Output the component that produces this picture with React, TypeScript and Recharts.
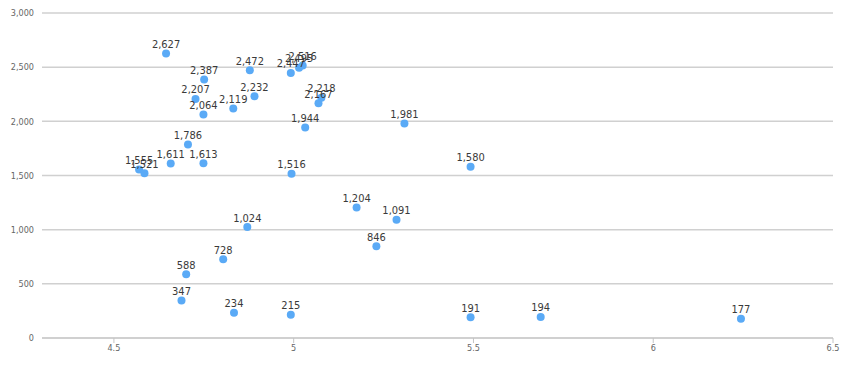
import { CartesianGrid, LabelList, Scatter, ScatterChart, XAxis, YAxis } from "recharts";

const xValues = [
  4.645, 4.751, 4.727, 4.749, 4.832, 4.891, 4.878, 4.706, 4.658, 4.749, 4.57, 4.585, 4.994, 4.871,
  4.804, 4.701, 4.688, 4.834, 4.992, 4.992, 5.015, 5.025, 5.069, 5.077, 5.032, 5.308, 5.492, 5.175,
  5.286, 5.23, 5.492, 5.687, 6.244,
];
const yValues = [
  2627, 2387, 2207, 2064, 2119, 2232, 2472, 1786, 1611, 1613, 1555, 1521, 1516, 1024, 728, 588, 347,
  234, 215, 2447, 2495, 2516, 2167, 2218, 1944, 1981, 1580, 1204, 1091, 846, 191, 194, 177,
];
const xTicks = [4.5, 5, 5.5, 6, 6.5];
const yTicks = [0, 500, 1000, 1500, 2000, 2500, 3000];

const data = xValues.map((x, i) => ({ x, y: yValues[i] }));

const fmt = (v: number) => v.toLocaleString("en-US");

export default function App() {
  return (
    <div style={{ position: "absolute", left: 0, top: 0, fontFamily: "'DejaVu Sans Condensed', sans-serif" }}>
      <ScatterChart width={860} height={367} margin={{ top: 13, right: 27, bottom: 9, left: 0 }}>
        <CartesianGrid vertical={false} stroke="#d0d0d0" strokeWidth={1.5} />
        <XAxis
          type="number"
          dataKey="x"
          domain={[4.3, 6.5]}
          ticks={xTicks}
          allowDataOverflow
          stroke="#c4c4c4"
          tickSize={5}
          tick={{ fill: "#666", fontSize: 9 }}
          height={20}
        />
        <YAxis
          type="number"
          dataKey="y"
          domain={[0, 3000]}
          ticks={yTicks}
          axisLine={false}
          tickLine={false}
          tickFormatter={fmt}
          tick={{ fill: "#666", fontSize: 9 }}
          width={42}
        />
        <Scatter data={data} fill="#5aaaf6" isAnimationActive={false} shape={(p: any) => <circle cx={p.cx} cy={p.cy} r={4} fill="#5aaaf6" />}>
          <LabelList dataKey="y" position="top" offset={1} formatter={(v: any) => fmt(Number(v))} style={{ fill: "#3a3a3a", fontSize: 11 }} />
        </Scatter>
      </ScatterChart>
    </div>
  );
}
